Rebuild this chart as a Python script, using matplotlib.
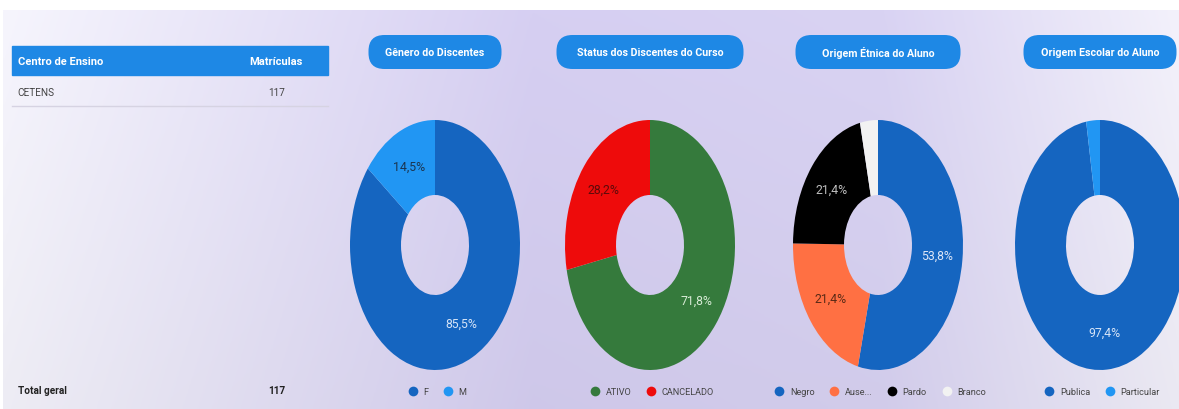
import numpy as np
import matplotlib
matplotlib.use('Agg')
import matplotlib.pyplot as plt
from matplotlib.colors import to_rgb
from matplotlib.lines import Line2D
from matplotlib.patches import FancyBboxPatch, Rectangle

plt.rcParams['font.family'] = ['Roboto', 'DejaVu Sans']

# data
genero_labels = ['F', 'M']
genero_vals = [85.5, 14.5]
status_labels = ['ATIVO', 'CANCELADO']
status_vals = [71.8, 28.2]
etnia_labels = ['Negro', 'Ause...', 'Pardo', 'Branco']
etnia_vals = [53.8, 21.4, 21.4, 3.4]
escola_labels = ['Publica', 'Particular']
escola_vals = [97.4, 2.6]

tabela_cols = ['Centro de Ensino', 'Matrículas']
tabela_rows = ['CETENS']
tabela_vals = [117]
total_geral = 117

W, H = 1179, 410
fig = plt.figure(figsize=(W / 100, H / 100), dpi=100)
fig.patch.set_facecolor('white')

# background / overlay axis in pixel coordinates
ax0 = fig.add_axes([0, 0, 1, 1])
ax0.set_xlim(0, W)
ax0.set_ylim(H, 0)
ax0.axis('off')

xs = np.linspace(0, 1, 400)
ys = np.linspace(0, 1, 100)
stops = [0.0, 0.45, 0.75, 1.0]
cols = [to_rgb(c) for c in ['#f6f5fd', '#d6cff2', '#d9d3f3', '#f3f1fb']]
row = np.array([[np.interp(x, stops, [c[k] for c in cols]) for k in range(3)] for x in xs])
img = np.empty((len(ys), len(xs), 3))
for i, y in enumerate(ys):
    img[i] = row * (1 - 0.035 * y)
ax0.imshow(img, extent=(3, W, H, 11), aspect='auto', zorder=0)

# table
ax0.add_patch(Rectangle((12, 47), 316, 29, color='#1e88e5', zorder=2))
ax0.text(18, 62, tabela_cols[0], color='white', fontsize=8, fontweight='bold', va='center')
ax0.text(303, 62, tabela_cols[1], color='white', fontsize=8, fontweight='bold', va='center', ha='right')
for i, (r, v) in enumerate(zip(tabela_rows, tabela_vals)):
    y = 93 + i * 30
    ax0.text(17, y, r, color='#444444', fontsize=7.2, va='center')
    ax0.text(285, y, str(v), color='#444444', fontsize=7.2, va='center', ha='right')
    ax0.plot([12, 328], [y + 14, y + 14], color='#d6d3e2', lw=1, zorder=2)
ax0.text(18, 391, 'Total geral', color='#222222', fontsize=7.2, fontweight='bold', va='center')
ax0.text(285, 391, str(total_geral), color='#222222', fontsize=7.2, fontweight='bold', va='center', ha='right')

charts = [
    ('Gênero do Discentes', genero_labels, genero_vals,
     ['#1565c0', '#2196f3'], ['#d6e4f7', '#1b3550'], 435, 133),
    ('Status dos Discentes do Curso', status_labels, status_vals,
     ['#357a3c', '#ee0b0b'], ['#d8ecd6', '#5c0a0a'], 650, 187),
    ('Origem Étnica do Aluno', etnia_labels, etnia_vals,
     ['#1565c0', '#ff7043', '#000000', '#f2f2f2'], ['#dde6f7', '#5a2a16', '#bdbdbd', '#000000'], 878, 165),
    ('Origem Escolar do Aluno', escola_labels, escola_vals,
     ['#1565c0', '#2196f3'], ['#d6e4f7', '#1b3550'], 1100, 153),
]

cy, rw, rh = 246, 170, 250
for title, labels, vals, colors, lcolors, cx, pw in charts:
    # title pill
    ax0.add_patch(FancyBboxPatch((cx - pw / 2, 36), pw, 34,
                                 boxstyle='round,pad=0,rounding_size=16',
                                 facecolor='#1e88e5', edgecolor='none', zorder=2))
    ax0.text(cx, 53, title, color='white', fontsize=7.7, fontweight='bold',
             ha='center', va='center', zorder=3)

    ax = fig.add_axes([(cx - rw / 2) / W, (H - cy - rh / 2) / H, rw / W, rh / H])
    wedges, _ = ax.pie(vals, colors=colors, startangle=90, counterclock=False,
                       radius=1, wedgeprops=dict(width=0.6, edgecolor='none'))
    ax.set_aspect('auto')
    ax.set_xlim(-1, 1)
    ax.set_ylim(-1, 1)
    ax.axis('off')
    for w, v, lc in zip(wedges, vals, lcolors):
        if v < 5:
            continue
        ang = np.deg2rad((w.theta1 + w.theta2) / 2)
        ax.text(0.7 * np.cos(ang), 0.7 * np.sin(ang), f'{v:.1f}%'.replace('.', ','),
                color=lc, fontsize=8.8, ha='center', va='center')
    handles = [Line2D([], [], marker='o', ls='none', markersize=7,
                      markerfacecolor=c, markeredgecolor='none') for c in colors]
    ax.legend(handles, labels, loc='center', bbox_to_anchor=(0.5, -0.085),
              ncol=len(labels), frameon=False, fontsize=6.6, handletextpad=0.15,
              columnspacing=1.15, labelcolor='#444444')

fig.savefig('out.png', dpi=100)
